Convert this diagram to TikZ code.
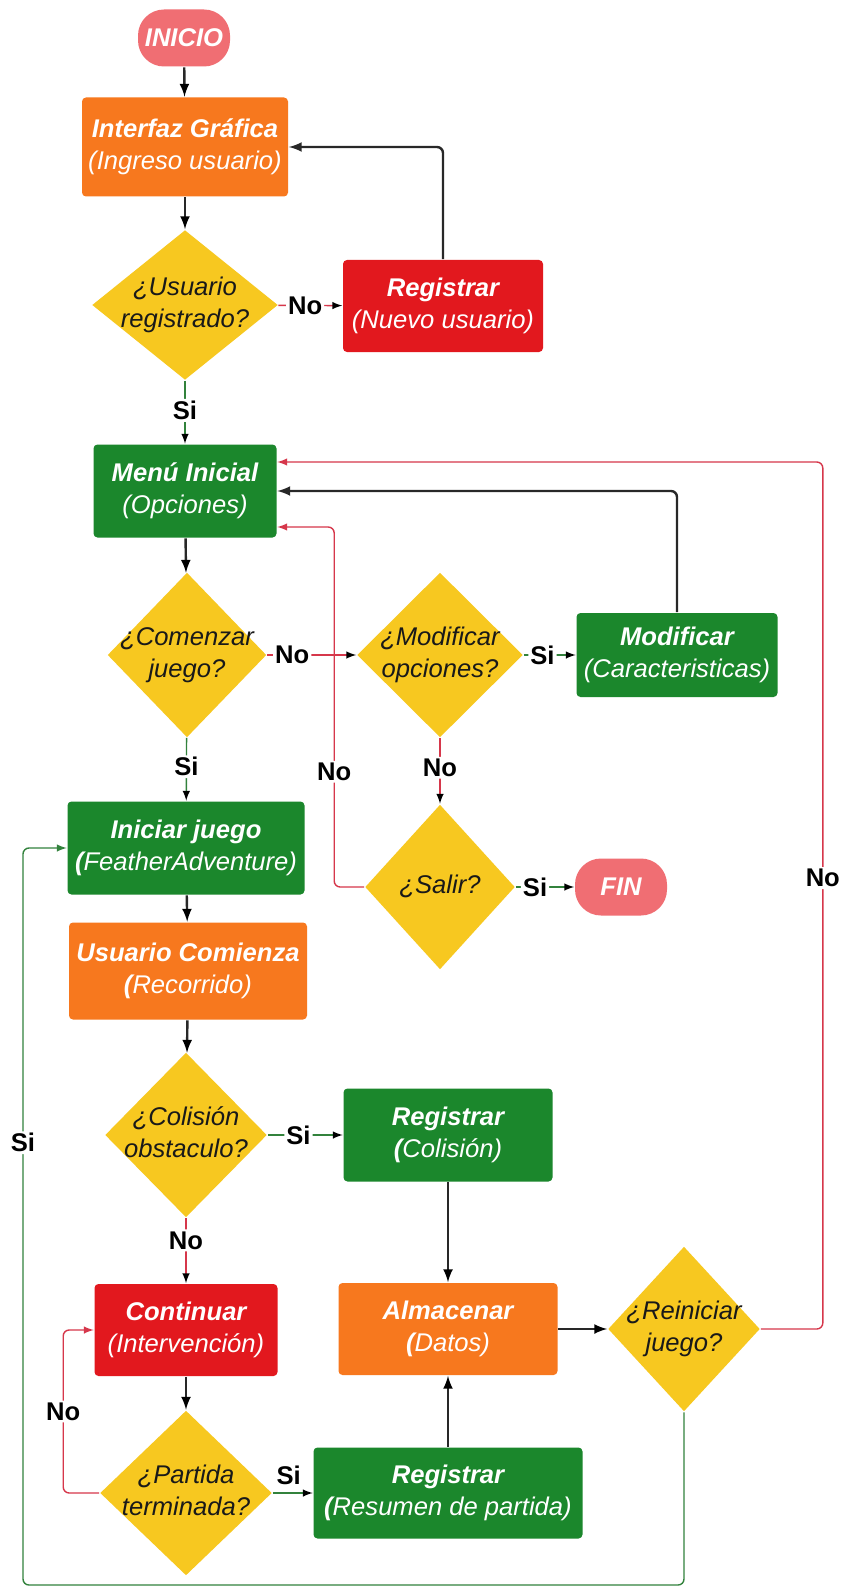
\documentclass[tikz,border=0pt]{standalone}
\usepackage{fontspec}
\setmainfont{Liberation Sans}
\usetikzlibrary{shapes.geometric}

\definecolor{naranja}{RGB}{247,120,30}
\definecolor{verde}{RGB}{27,135,44}
\definecolor{rojo}{RGB}{226,24,30}
\definecolor{amarillo}{RGB}{247,200,32}
\definecolor{salmon}{RGB}{240,110,115}
\definecolor{lineagris}{RGB}{40,40,40}
\definecolor{linearoja}{RGB}{214,55,75}
\definecolor{lineaverde}{RGB}{50,130,60}

\newcommand{\preg}[1]{\makebox[0pt]{\begin{tabular}{@{}c@{}}#1\end{tabular}}}

\begin{document}
\begin{tikzpicture}[x=0.5pt, y=-0.5pt, thick, align=center, >=latex,
	font=\fontsize{12.8}{16}\selectfont\itshape,
	terminal/.style={rectangle, rounded corners=13pt, fill=salmon, text=white, font=\fontsize{12.8}{16}\selectfont\bfseries\itshape, minimum width=46pt, minimum height=28.5pt},
	caja_naranja/.style={rectangle, rounded corners=2pt, fill=naranja, text=white, inner sep=2pt},
	caja_verde/.style={rectangle, rounded corners=2pt, fill=verde, text=white, inner sep=2pt},
	caja_roja/.style={rectangle, rounded corners=2pt, fill=rojo, text=white, inner sep=2pt},
	pregunta/.style={diamond, fill=amarillo, inner sep=0pt, text=black!90},
	etiqueta/.style={fill=white, inner sep=1pt, font=\fontsize{12.8}{16}\selectfont\bfseries, text=black},
	flecha_negra/.style={->, draw=lineagris, line width=1.2pt},
	flecha_roja/.style={->, draw=linearoja, line width=0.7pt, rounded corners=3pt},
	flecha_verde/.style={->, draw=lineaverde, line width=0.7pt, rounded corners=3pt}]

\fill[white] (0,0) rectangle (843,1589);
\useasboundingbox (0,0) rectangle (843,1589);

\node[terminal]	(inicio)	at (184,38)	{INICIO};
\node[caja_naranja, minimum width=103pt, minimum height=49.5pt]	(interfaz)	at (185,147)	{\textbf{Interfaz Gráfica}\\(Ingreso usuario)};
\node[pregunta, minimum width=93pt, minimum height=75pt]	(usuario_registrado)	at (185,305)	{\preg{¿Usuario\\registrado?}};
\node[caja_roja, minimum width=100pt, minimum height=46pt]	(registrar_usuario)	at (443,306)	{\textbf{Registrar}\\(Nuevo usuario)};
\node[caja_verde, minimum width=91.5pt, minimum height=46.5pt]	(menu_inicial)	at (185,491)	{\textbf{Menú Inicial}\\(Opciones)};
\node[pregunta, minimum width=79.5pt, minimum height=82.5pt]	(comenzar_juego)	at (187,655)	{\preg{¿Comenzar\\juego?}};
\node[pregunta, minimum width=83pt, minimum height=82.5pt]	(modificar_opciones)	at (440,655)	{\preg{¿Modificar\\opciones?}};
\node[caja_verde, minimum width=100.5pt, minimum height=42pt]	(modificar)	at (677,655)	{\textbf{Modificar}\\(Caracteristicas)};
\node[caja_verde, minimum width=118.5pt, minimum height=46.5pt]	(iniciar_juego)	at (186,848)	{\textbf{Iniciar juego}\\\textbf{(}FeatherAdventure)};
\node[pregunta, minimum width=75pt, minimum height=82.5pt]	(salir)	at (440,887)	{\preg{¿Salir?}};
\node[terminal]	(fin)	at (621,887)	{FIN};
\node[caja_naranja, minimum width=119pt, minimum height=48.5pt]	(usuario_comienza)	at (188,971)	{\textbf{Usuario Comienza}\\\textbf{(}Recorrido)};
\node[pregunta, minimum width=81pt, minimum height=82.5pt]	(colision)	at (186,1135)	{\preg{¿Colisión\\obstaculo?}};
\node[caja_verde, minimum width=104.5pt, minimum height=46.5pt]	(registrar_colision)	at (448,1135)	{\textbf{Registrar}\\\textbf{(}Colisión)};
\node[caja_roja, minimum width=91.5pt, minimum height=46pt]	(continuar)	at (186,1330)	{\textbf{Continuar}\\(Intervención)};
\node[caja_naranja, minimum width=109.5pt, minimum height=46pt]	(almacenar)	at (448,1329)	{\textbf{Almacenar}\\\textbf{(}Datos)};
\node[pregunta, minimum width=76pt, minimum height=82.5pt]	(reiniciar)	at (684,1329)	{\preg{¿Reiniciar\\juego?}};
\node[pregunta, minimum width=86pt, minimum height=82.5pt]	(partida_terminada)	at (186,1493)	{\preg{¿Partida\\terminada?}};
\node[caja_verde, minimum width=134.5pt, minimum height=45.5pt]	(registrar_resumen)	at (448,1493)	{\textbf{Registrar}\\\textbf{(}Resumen de partida)};
\coordinate (esquina) at (23,1585);

\path[flecha_negra]	(inicio)	edge	(interfaz)
		(interfaz)	edge	(usuario_registrado)
		(menu_inicial)	edge	(comenzar_juego)
		(iniciar_juego)	edge	(usuario_comienza)
		(usuario_comienza)	edge	(colision)
		(registrar_colision)	edge	(almacenar)
		(continuar)	edge	(partida_terminada)
		(registrar_resumen)	edge	(almacenar)
		(almacenar)	edge	(reiniciar)
;
\draw[flecha_negra, rounded corners=3pt]	(registrar_usuario) |- (interfaz);
\draw[flecha_negra, rounded corners=3pt]	(modificar) |- (menu_inicial);

\path[flecha_roja]	(usuario_registrado)	edge	node	[etiqueta, pos=0.42]	{No}	(registrar_usuario)
		(comenzar_juego)	edge	node	[etiqueta, pos=0.28]	{No}	(modificar_opciones)
		(modificar_opciones)	edge	node	[etiqueta, pos=0.45]	{No}	(salir)
		(colision)	edge	node	[etiqueta, pos=0.34]	{No}	(continuar)
;
\draw[flecha_roja]	(salir.west) -- ++(-30,0) |- node[etiqueta, pos=0.16] {No} ([yshift=-18pt]menu_inicial.east);
\draw[flecha_roja]	(reiniciar.east) -- ++(62,0) |- node[etiqueta, pos=0.26] {No} ([yshift=14.5pt]menu_inicial.east);
\draw[flecha_roja]	(partida_terminada.west) -- ++(-36,0) |- node[etiqueta, pos=0.25] {No} (continuar.west);

\path[flecha_verde]	(usuario_registrado)	edge	node	[etiqueta, pos=0.47]	{Si}	(menu_inicial)
		(comenzar_juego)	edge	node	[etiqueta, pos=0.46]	{Si}	(iniciar_juego)
		(modificar_opciones)	edge	node	[etiqueta, pos=0.36]	{Si}	(modificar)
		(salir)	edge	node	[etiqueta, pos=0.33]	{Si}	(fin)
		(colision)	edge	node	[etiqueta, pos=0.41]	{Si}	(registrar_colision)
		(partida_terminada)	edge	node	[etiqueta, above=3pt, pos=0.4]	{Si}	(registrar_resumen)
;
\draw[flecha_verde]	(reiniciar) |- (esquina) |- node[etiqueta, pos=0.3] {Si} (iniciar_juego);

\end{tikzpicture}
\end{document}
